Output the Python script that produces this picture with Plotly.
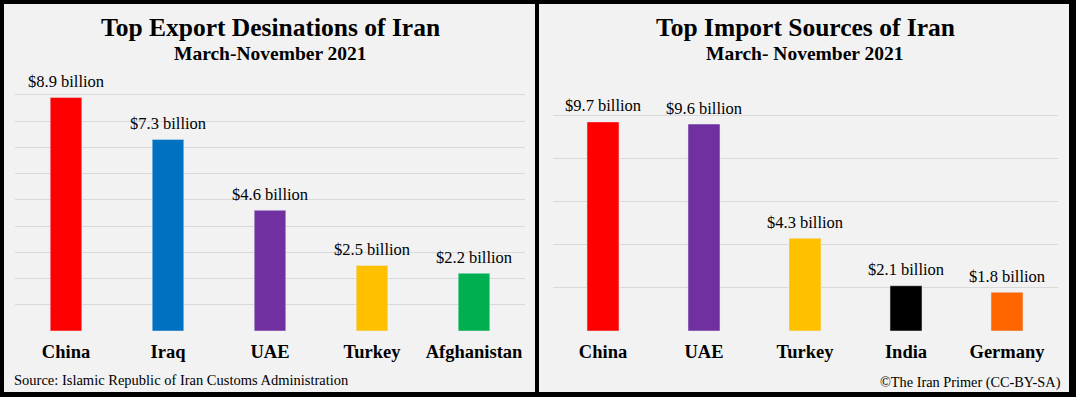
import plotly.graph_objects as go

# ---- data ----
export_countries = ["China", "Iraq", "UAE", "Turkey", "Afghanistan"]
export_values = [8.9, 7.3, 4.6, 2.5, 2.2]
export_colors = ["#FF0000", "#0070C0", "#7030A0", "#FFC000", "#00B050"]

import_countries = ["China", "UAE", "Turkey", "India", "Germany"]
import_values = [9.7, 9.6, 4.3, 2.1, 1.8]
import_colors = ["#FF0000", "#7030A0", "#FFC000", "#000000", "#FF6600"]

export_title = "Top Export Desinations of Iran"
export_subtitle = "March-November 2021"
import_title = "Top Import Sources of Iran"
import_subtitle = "March- November 2021"
source_text = "Source: Islamic Republic of Iran Customs Administration"
credit_text = "©The Iran Primer (CC-BY-SA)"

W, H = 1076, 397
FONT = "Liberation Serif, Times New Roman, serif"
GRID = "#D9D9D9"
PANEL = "#F2F2F2"


def px(x):
    return x / W


def py(y):
    return 1 - y / H


fig = go.Figure()

fig.add_trace(go.Bar(x=export_countries, y=export_values, marker_color=export_colors,
                     width=0.31, xaxis="x", yaxis="y", showlegend=False, hoverinfo="x+y"))
fig.add_trace(go.Bar(x=import_countries, y=import_values, marker_color=import_colors,
                     width=0.317, xaxis="x2", yaxis="y2", showlegend=False, hoverinfo="x+y"))

annotations = []
for c, v in zip(export_countries, export_values):
    annotations.append(dict(x=c, y=v, xref="x", yref="y", text=f"${v:.1f} billion",
                            showarrow=False, yanchor="middle", yshift=16,
                            font=dict(family=FONT, size=16.5, color="#000")))
for c, v in zip(import_countries, import_values):
    annotations.append(dict(x=c, y=v, xref="x2", yref="y2", text=f"${v:.1f} billion",
                            showarrow=False, yanchor="middle", yshift=16,
                            font=dict(family=FONT, size=16.5, color="#000")))

# titles
annotations += [
    dict(x=px(270.5), y=py(28), xref="paper", yref="paper", text=f"<b>{export_title}</b>",
         showarrow=False, xanchor="center", yanchor="middle",
         font=dict(family=FONT, size=25.5, color="#000")),
    dict(x=px(270), y=py(53.5), xref="paper", yref="paper", text=f"<b>{export_subtitle}</b>",
         showarrow=False, xanchor="center", yanchor="middle",
         font=dict(family=FONT, size=19.5, color="#000")),
    dict(x=px(805), y=py(28), xref="paper", yref="paper", text=f"<b>{import_title}</b>",
         showarrow=False, xanchor="center", yanchor="middle",
         font=dict(family=FONT, size=25.5, color="#000")),
    dict(x=px(805), y=py(53.5), xref="paper", yref="paper", text=f"<b>{import_subtitle}</b>",
         showarrow=False, xanchor="center", yanchor="middle",
         font=dict(family=FONT, size=19.5, color="#000")),
    dict(x=px(12), y=py(379.5), xref="paper", yref="paper", text=source_text,
         showarrow=False, xanchor="left", yanchor="middle",
         font=dict(family=FONT, size=14.5, color="#000")),
    dict(x=px(1063), y=py(382.5), xref="paper", yref="paper", text=credit_text,
         showarrow=False, xanchor="right", yanchor="middle",
         font=dict(family=FONT, size=14.3, color="#000")),
]

shapes = [
    dict(type="rect", xref="paper", yref="paper", x0=px(4), x1=px(535), y0=py(392), y1=py(4),
         fillcolor=PANEL, line=dict(width=0), layer="below"),
    dict(type="rect", xref="paper", yref="paper", x0=px(539), x1=px(1069), y0=py(392), y1=py(4),
         fillcolor=PANEL, line=dict(width=0), layer="below"),
]

xaxis_common = dict(showgrid=False, zeroline=False, showline=False, ticks="outside", ticklen=4,
                    tickcolor="rgba(0,0,0,0)", tickfont=dict(family=FONT, size=18.5, color="#000"),
                    tickprefix="<b>", ticksuffix="</b>", fixedrange=True)
yaxis_common = dict(showgrid=True, gridcolor=GRID, gridwidth=1, zeroline=False, showline=False,
                    showticklabels=False, ticks="", fixedrange=True)

fig.update_layout(
    width=W, height=H,
    margin=dict(l=0, r=0, t=0, b=0, pad=0),
    paper_bgcolor="#000000",
    plot_bgcolor="rgba(0,0,0,0)",
    bargap=0.69,
    xaxis=dict(domain=[px(15), px(525)], anchor="y", **xaxis_common),
    yaxis=dict(domain=[py(331), py(68.5)], range=[0, 10], dtick=1, anchor="x", **yaxis_common),
    xaxis2=dict(domain=[px(552.5), px(1057.5)], anchor="y2", **xaxis_common),
    yaxis2=dict(domain=[py(331), py(72.3)], range=[0, 12], dtick=2, anchor="x2", **yaxis_common),
    annotations=annotations,
    shapes=shapes,
)

fig.write_html("out.html", config={"displayModeBar": False},
               post_script="document.body.style.margin='0';document.body.style.overflow='hidden';")
